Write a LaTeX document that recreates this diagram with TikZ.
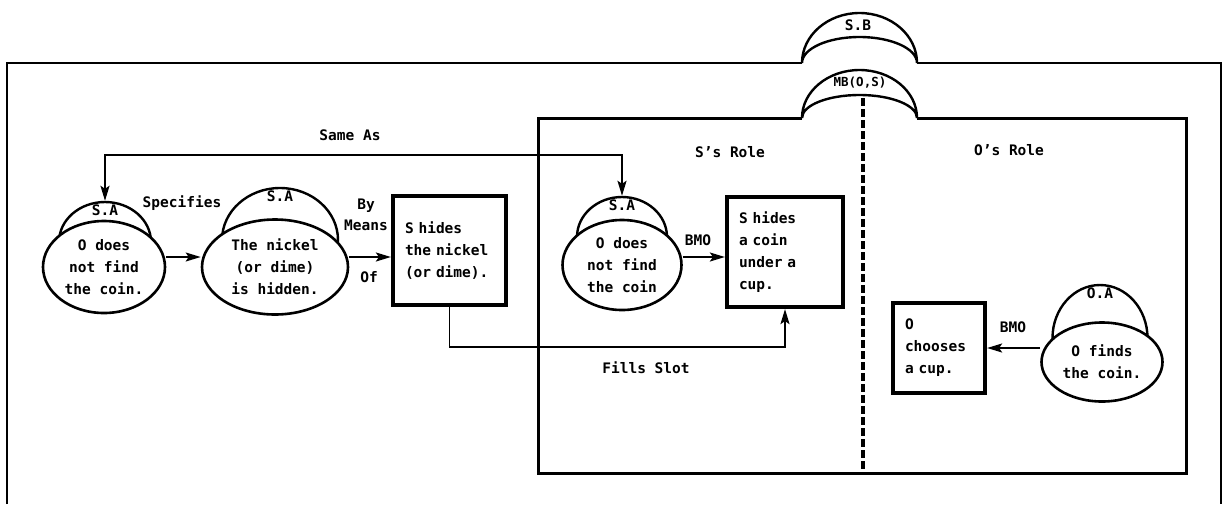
\documentclass[tikz,border=0pt]{standalone}
\usepackage{fontspec}
\setmonofont{DejaVu Sans Mono}
\usepackage{tikz}
\usetikzlibrary{shapes.geometric,arrows.meta,positioning,calc}
\tikzset{
  tip/.tip={Stealth[length=15pt,width=9pt,inset=3pt]},
  arr/.style={-tip,line width=1.8pt},
  Ell/.style={ellipse,draw,line width=2.6pt,fill=white,inner sep=0pt,align=center},
  Cap/.style={ellipse,draw,line width=2.4pt,fill=white,inner sep=0pt},
  Box/.style={rectangle,draw,line width=4.2pt,fill=white,align=left,
              inner xsep=12pt,inner ysep=0pt},
  frame/.style={line width=2.4pt},
  moon/.style={line width=2.4pt,fill=white},
  capText/.style={anchor=north,yshift=-3pt,inner sep=1pt}
}

\begin{document}
\begin{tikzpicture}[x=1pt,y=-1pt,
  every node/.style={font=\fontsize{14.5pt}{22pt}\selectfont\ttfamily\bfseries}
]
  \useasboundingbox[fill=white] (0,0) rectangle (1223,504);

  % frames, belief crescents
  \draw[frame] (7,504) -- (7,63) -- (802,63);
  \draw[frame] (917,63) -- (1221,63) -- (1221,504);
  \draw[frame,line width=3pt] (802,118) -- (538,118) -- (538,473) -- (1186,473) -- (1186,118) -- (917,118);
  \draw[moon] (802,63) arc[start angle=180,end angle=0,x radius=57.5pt,y radius=50pt]
    arc[start angle=0,end angle=180,x radius=57.5pt,y radius=26pt] -- cycle;
  \node (sb) at (858,25) {S.B};
  \draw[moon] (802,118) arc[start angle=180,end angle=0,x radius=57.5pt,y radius=48pt]
    arc[start angle=0,end angle=180,x radius=57.5pt,y radius=23pt] -- cycle;
  \node[font=\fontsize{12.5pt}{14pt}\selectfont\ttfamily\bfseries] (mb) at (860,83) {MB(O,S)};
  \draw[line width=4pt,dash pattern=on 8pt off 3pt] (863,98) -- (863,473);

  % caps
  \node[Cap,minimum width=92pt,minimum height=80pt,label={[capText]north:S.A}] (capNoFind) at (105,242) {};
  \node[Cap,minimum width=116pt,minimum height=104pt,label={[capText]north:S.A}] (capNickel) at (280,240) {};
  \node[Cap,minimum width=90pt,minimum height=80pt,label={[capText]north:S.A}] (capNoFind2) at (622,237) {};
  \node[Cap,minimum width=95pt,minimum height=106pt,label={[capText]north:O.A}] (capFinds) at (1100,338) {};

  % states
  \node[Ell,minimum width=122pt,minimum height=92pt] (noFind) at (104,267) {O does\\not find\\the coin.};
  \node[Ell,minimum width=146pt,minimum height=95pt] (nickel) at (275,267) {The nickel\\(or dime)\\is hidden.};
  \node[Ell,minimum width=119pt,minimum height=90pt] (noFind2) at (622,265) {O does\\not find\\the coin};
  \node[Ell,minimum width=121pt,minimum height=79pt] (finds) at (1102,362) {O finds\\the coin.};

  % actions
  \node[Box,text width=89pt,minimum height=109pt] (hideNickel) at (449.5,250.5) {S hides\\the nickel\\(or dime).};
  \node[Box,text width=92pt,minimum height=110pt] (hideCoin) at (785,252) {S hides\\a coin\\under a\\cup.};
  \node[Box,text width=68pt,minimum height=90pt] (chooseCup) at (939,348) {O\\chooses\\a cup.};

  % links
  \coordinate (sameY) at (0,155);
  \coordinate (slotY) at (0,347);
  \draw[arr,tip-tip] (capNoFind.north) -- (capNoFind.north |- sameY) -| (capNoFind2.north);
  \draw[arr] ([yshift=10pt]noFind.east) -- ([yshift=10pt]nickel.west);
  \draw[arr] ([yshift=10pt]nickel.east) -- ([yshift=10pt]nickel.east -| hideNickel.west);
  \draw[arr] ([yshift=8pt]noFind2.east) -- ([yshift=8pt]noFind2.east -| hideCoin.west);
  \draw[arr] ([yshift=14pt]finds.west) -- ([yshift=14pt]finds.west -| chooseCup.east);
  \draw[arr] (hideNickel.south) -- (hideNickel.south |- slotY) -| (hideCoin.south);

  % labels
  \node (same) at (350,135) {Same As};
  \node (spec) at (182,203) {Specifies};
  \node (means) at (366,225) {Means};
  \node[above=0pt of means] (by) {By};
  \node (of) at (369,277) {Of};
  \node (bmoS) at (698,240) {BMO};
  \node (bmoO) at (1013,327) {BMO};
  \node (sRole) at (730,152) {S’s Role};
  \node (oRole) at (1009,150) {O’s Role};
  \node (fills) at (646,368) {Fills Slot};
\end{tikzpicture}
\end{document}
